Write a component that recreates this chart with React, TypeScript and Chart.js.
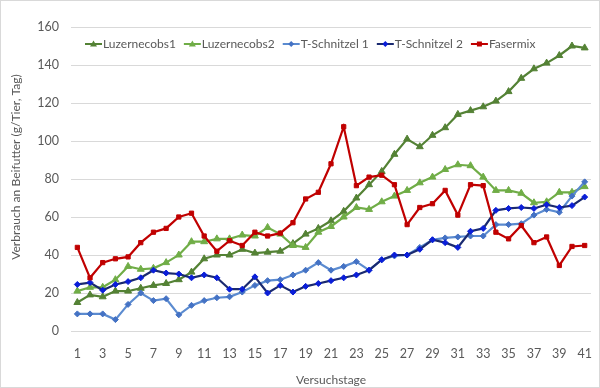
import React, { useEffect, useRef } from "react";
import { Chart, registerables } from "chart.js";

Chart.register(...registerables);

const days: string[] = Array.from({ length: 41 }, (_, i) => String(i + 1));

const seriesNames = ["Luzernecobs1", "Luzernecobs2", "T-Schnitzel 1", "T-Schnitzel 2", "Fasermix"];

const luzernecobs1 = [15, 19, 18, 21, 21, 22.5, 24, 25, 27, 31, 38, 40, 40, 43, 41, 41.5, 42, 46, 51, 54, 58, 63, 70, 77, 84, 93, 101, 97, 103, 107, 114, 116, 118, 121, 126, 133, 138, 141, 145, 150, 149];
const luzernecobs2 = [21, 23, 23, 27, 34, 32.5, 33, 36, 40, 47, 47, 48.5, 48.5, 50.5, 50, 54.5, 51, 45, 44, 52, 55, 60, 65, 64, 68, 71, 74, 78, 81, 85, 87.5, 87, 81, 74, 74, 72.5, 67.5, 68, 73, 73, 76];
const tSchnitzel1 = [9, 9, 9, 6, 14, 20, 16, 17, 8.5, 13.5, 16, 17.5, 18, 20.5, 24, 26.5, 27, 29.5, 32, 36, 32, 34, 36.5, 32, 37.5, 39.5, 40, 44, 48, 49, 49.5, 50, 50, 56, 56, 56.5, 61, 64, 62.5, 71, 78.5];
const tSchnitzel2 = [24.5, 25.5, 21.5, 24.5, 26, 28, 32, 30.5, 30, 28, 29.5, 28, 22, 22, 28.5, 20, 24, 20.5, 23.5, 25, 26.5, 28, 29.5, 32, 37.5, 40, 40, 43, 48, 46.5, 44, 52.5, 54, 63.5, 64.5, 65, 64.5, 66.5, 65, 66, 70.5];
const fasermix = [44, 28, 36, 38, 39, 46.5, 52, 54, 60, 62, 50, 42, 47.5, 45, 52, 50, 51.5, 57, 69.5, 73, 88, 107.5, 76.5, 81, 82, 77, 56, 65, 67, 74, 61, 77, 76.5, 52, 48.5, 55.5, 46.5, 49.5, 34.5, 44.5, 45];

const yTicks = [0, 20, 40, 60, 80, 100, 120, 140, 160];
const yTitle = "Verbrauch an Beifutter (g/Tier, Tag)";
const xTitle = "Versuchstage";

const FONT = "Lato, 'Open Sans', sans-serif";
const GRAY = "#595959";

const styles = [
  { line: "#548235", point: "#548235", shape: "triangle", r: 4 },
  { line: "#70AD47", point: "#70AD47", shape: "triangle", r: 4 },
  { line: "#5B8BD0", point: "#4472C4", shape: "rectRot", r: 3 },
  { line: "#1A2A70", point: "#0A1ED8", shape: "rectRot", r: 3 },
  { line: "#C00000", point: "#C00000", shape: "rect", r: 3 },
];

const legendPlugin = {
  id: "customLegend",
  afterDraw(chart: any) {
    const ctx = chart.ctx;
    const area = chart.chartArea;
    ctx.save();
    // legend
    ctx.font = `12px ${FONT}`;
    ctx.textBaseline = "middle";
    let x = area.left + 14;
    const y = area.top + 17;
    chart.data.datasets.forEach((ds: any, i: number) => {
      const st = styles[i];
      ctx.strokeStyle = st.line;
      ctx.lineWidth = 2;
      ctx.beginPath();
      ctx.moveTo(x, y);
      ctx.lineTo(x + 17, y);
      ctx.stroke();
      ctx.fillStyle = st.point;
      ctx.beginPath();
      const cx = x + 8.5;
      if (st.shape === "triangle") {
        ctx.moveTo(cx, y - 3.5);
        ctx.lineTo(cx + 3.5, y + 2.5);
        ctx.lineTo(cx - 3.5, y + 2.5);
      } else if (st.shape === "rectRot") {
        ctx.moveTo(cx, y - 3);
        ctx.lineTo(cx + 3, y);
        ctx.lineTo(cx, y + 3);
        ctx.lineTo(cx - 3, y);
      } else {
        ctx.rect(cx - 2.5, y - 2.5, 5, 5);
      }
      ctx.closePath();
      ctx.fill();
      ctx.fillStyle = GRAY;
      ctx.fillText(ds.label, x + 18, y);
      x += 18 + ctx.measureText(ds.label).width + 8;
    });
    // y axis title, fitted to the reference's length
    ctx.font = `12px ${FONT}`;
    const w = ctx.measureText(yTitle).width;
    const size = Math.min(12.5, (12 * 186) / w);
    ctx.font = `${size}px ${FONT}`;
    ctx.translate(15, area.top + 140);
    ctx.rotate(-Math.PI / 2);
    ctx.textAlign = "center";
    ctx.textBaseline = "middle";
    ctx.fillStyle = GRAY;
    ctx.fillText(yTitle, 0, 0);
    ctx.restore();
  },
};

export default function App() {
  const ref = useRef<HTMLCanvasElement | null>(null);
  useEffect(() => {
    document.body.style.margin = "0";
    const values = [luzernecobs1, luzernecobs2, tSchnitzel1, tSchnitzel2, fasermix];
    const chart = new Chart(ref.current!, {
      type: "line",
      data: {
        labels: days,
        datasets: values.map((v, i) => ({
          label: seriesNames[i],
          data: v,
          borderColor: styles[i].line,
          backgroundColor: styles[i].point,
          pointBackgroundColor: styles[i].point,
          pointBorderColor: styles[i].point,
          pointStyle: styles[i].shape as any,
          pointRadius: styles[i].r,
          pointBorderWidth: 1,
          borderWidth: 2.2,
          tension: 0,
          order: 5 - i,
        })),
      },
      options: {
        animation: false,
        responsive: false,
        layout: { padding: { top: 26, right: 6, bottom: 0, left: 0 } },
        plugins: { legend: { display: false }, tooltip: { enabled: false } },
        scales: {
          x: {
            offset: true,
            grid: { display: false },
            border: { display: false },
            ticks: {
              autoSkip: false,
              maxRotation: 0,
              color: GRAY,
              font: { family: FONT, size: 12.5 },
              padding: 7,
              callback: (_v: any, idx: number) => (idx % 2 === 0 ? days[idx] : ""),
            },
            title: {
              display: true,
              text: xTitle,
              color: GRAY,
              font: { family: FONT, size: 12 },
              padding: { top: 8, bottom: 0 },
            },
            afterFit: (s: any) => {
              s.height = 56;
            },
          },
          y: {
            min: 0,
            max: 160,
            afterBuildTicks: (s: any) => {
              s.ticks = yTicks.map((v) => ({ value: v }));
            },
            grid: { color: "#D9D9D9", lineWidth: 1, drawTicks: false },
            border: { display: false },
            ticks: {
              color: GRAY,
              font: { family: FONT, size: 12.5 },
              padding: 12,
            },
            afterFit: (s: any) => {
              s.width = 70;
            },
          },
        },
      },
      plugins: [legendPlugin],
    });
    return () => chart.destroy();
  }, []);
  return (
    <div style={{ width: 600, height: 388, boxSizing: "border-box", border: "1px solid #D9D9D9", position: "relative", background: "#fff" }}>
      <canvas ref={ref} width={598} height={386} style={{ display: "block" }} />
    </div>
  );
}
